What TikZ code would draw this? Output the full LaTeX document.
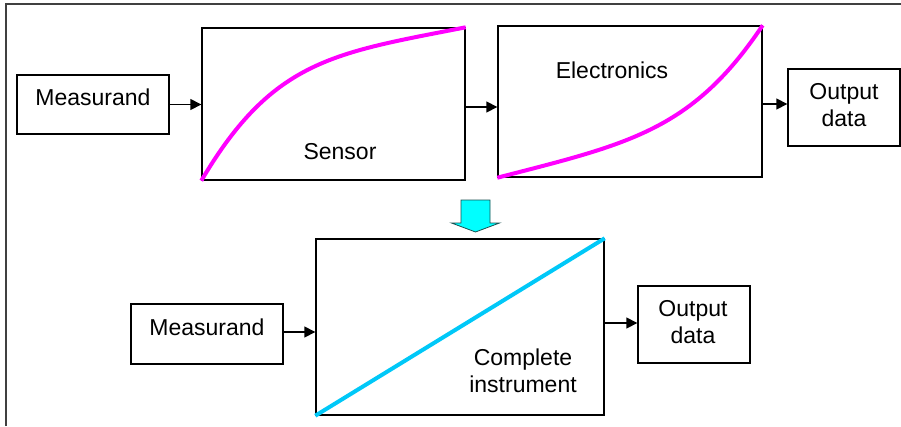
\documentclass[tikz,border=0pt]{standalone}
\usepackage{fontspec}
\setmainfont{Liberation Sans}
\usetikzlibrary{arrows.meta}
\definecolor{mag}{HTML}{FF00FF}
\definecolor{skyline}{HTML}{00C8F8}
\definecolor{cyanfill}{HTML}{00FFFF}
\definecolor{framegray}{HTML}{404040}
\definecolor{tealedge}{HTML}{1A5050}
\tikzset{
  box/.style={draw=black, line width=1.4pt, fill=white, inner sep=0pt},
  lbl/.style={inner sep=0pt, font=\fontsize{23}{27}\selectfont, align=center},
  arr/.style={line width=1.6pt, -{Triangle[length=11pt,width=11pt]}},
  curvem/.style={draw=mag, line width=4pt},
  curvec/.style={draw=skyline, line width=4pt},
}
\begin{document}
\begin{tikzpicture}[x=1pt,y=-1pt]
\useasboundingbox (0,0) rectangle (901,426);
% frame
\draw[framegray, line width=2pt] (6,426) -- (6,4) -- (901,4);

% top row boxes
\node[box, minimum width=152, minimum height=59] (m1) at (93,104.5) {};
\node[box, minimum width=263, minimum height=152] (sen) at (333.5,104) {};
\node[box, minimum width=264, minimum height=151] (ele) at (630,101.5) {};
\node[box, minimum width=112, minimum height=77] (o1) at (844,107.5) {};

\node[lbl] (m1t) at (93,97) {Measurand};
\node[lbl] (sent) at (340,152) {Sensor};
\node[lbl] (elet) at (612,70) {Electronics};
\node[lbl] (o1t) at (844,105) {Output\\data};

% curves
\draw[curvem] (sen.south west) .. controls (273,59) and (335,53) .. (sen.north east);
\draw[curvem] (ele.south west) .. controls (628,144) and (692,131) .. (ele.north east);

% arrows top
\draw[arr] (m1.east) -- (m1.east -| sen.west);
\draw[arr] (sen.east |- 0,107) -- (ele.west |- 0,107);
\draw[arr] (ele.east |- 0,104) -- (o1.west |- 0,104);

% block arrow
\draw[fill=cyanfill, draw=tealedge, line width=0.8pt]
  (461,200) -- (490,200) -- (490,223) -- (499.5,223) -- (475.5,232)
  -- (451.5,223) -- (461,223) -- cycle;

% bottom row
\node[box, minimum width=152, minimum height=60] (m2) at (207,334) {};
\node[box, minimum width=288, minimum height=176] (comp) at (460,327) {};
\node[box, minimum width=112, minimum height=77] (o2) at (694,324.5) {};

\node[lbl] (m2t) at (207,327) {Measurand};
\node[lbl] (compt) at (523,371) {Complete\\instrument};
\node[lbl] (o2t) at (693,322) {Output\\data};

\draw[curvec] (comp.south west) -- (comp.north east);

\draw[arr] (m2.east |- 0,332) -- (comp.west |- 0,332);
\draw[arr] (comp.east |- 0,323) -- (o2.west |- 0,323);
\end{tikzpicture}
\end{document}
